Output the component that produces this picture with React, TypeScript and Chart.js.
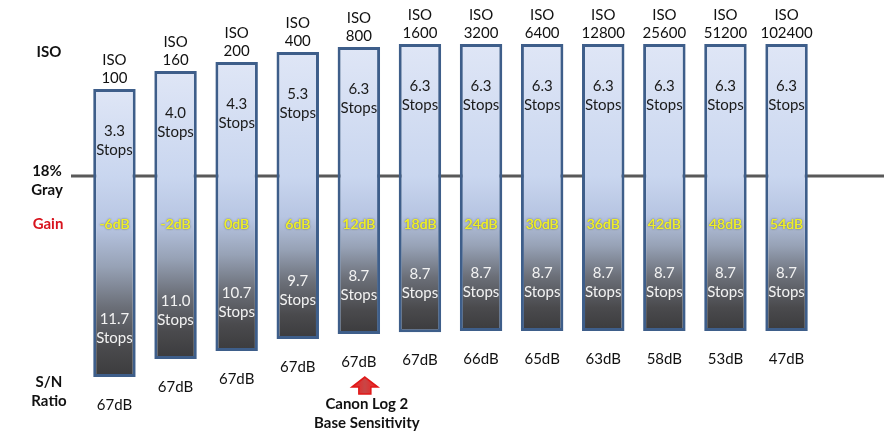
import React, { useEffect, useRef } from 'react';
import { Chart, registerables } from 'chart.js';

Chart.register(...registerables);

// ---- data ----
const isoValues = ['100', '160', '200', '400', '800', '1600', '3200', '6400', '12800', '25600', '51200', '102400'];
const stopsAbove = [3.3, 4.0, 4.3, 5.3, 6.3, 6.3, 6.3, 6.3, 6.3, 6.3, 6.3, 6.3];
const stopsBelow = [11.7, 11.0, 10.7, 9.7, 8.7, 8.7, 8.7, 8.7, 8.7, 8.7, 8.7, 8.7];
const gainDb = [-6, -2, 0, 6, 12, 18, 24, 30, 36, 42, 48, 54];
const snRatioDb = [67, 67, 67, 67, 67, 67, 66, 65, 63, 58, 53, 47];
// drawn extent of each bar above / below the 18% gray line (stop-sized units, as drawn in the diagram)
const barTop = [4.53, 5.47, 5.94, 6.46, 6.72, 6.88, 6.88, 6.88, 6.88, 6.88, 6.88, 6.88];
const barBottom = [-10.47, -9.53, -9.11, -8.49, -8.23, -8.13, -8.07, -8.07, -8.07, -8.07, -8.07, -8.07];
const baseSensitivityIndex = 4;

const FONT = 'Lato, "Open Sans", sans-serif';

function barGradient(ctx: CanvasRenderingContext2D, top: number, line: number, bottom: number) {
  const g = ctx.createLinearGradient(0, top, 0, bottom);
  const h = bottom - top;
  const f = (p: number) => Math.min(1, Math.max(0, (p - top) / h));
  const lower = bottom - line;
  g.addColorStop(0, '#dfe6f6');
  g.addColorStop(f(line), '#c9d6ef');
  g.addColorStop(f(line + lower * 0.25), '#b7c5e2');
  g.addColorStop(f(line + lower * 0.45), '#97a2b6');
  g.addColorStop(f(line + lower * 0.65), '#6b6f78');
  g.addColorStop(f(line + lower * 0.85), '#4a4a4d');
  g.addColorStop(1, '#3b3b3d');
  return g;
}

const grayLinePlugin = {
  id: 'grayLine',
  beforeDatasetsDraw(chart: any) {
    const { ctx } = chart;
    const y0 = chart.scales.y.getPixelForValue(0);
    ctx.save();
    ctx.strokeStyle = '#595959';
    ctx.lineWidth = 3;
    ctx.beginPath();
    ctx.moveTo(71, y0);
    ctx.lineTo(chart.width, y0);
    ctx.stroke();
    ctx.restore();
  },
};

const labelsPlugin = {
  id: 'labels',
  afterDatasetsDraw(chart: any) {
    const { ctx } = chart;
    const xs = chart.scales.x;
    const ys = chart.scales.y;
    const y0 = ys.getPixelForValue(0);
    ctx.save();
    ctx.textAlign = 'center';
    ctx.textBaseline = 'middle';

    isoValues.forEach((iso, i) => {
      const x = xs.getPixelForValue(i);
      const top = ys.getPixelForValue(barTop[i]);
      const bottom = ys.getPixelForValue(barBottom[i]);

      ctx.fillStyle = '#111';
      ctx.font = `15px ${FONT}`;
      ctx.fillText('ISO', x, top - 29);
      ctx.fillText(iso, x, top - 11);

      ctx.fillStyle = '#1a1a1a';
      ctx.fillText(stopsAbove[i].toFixed(1), x, top + 42);
      ctx.fillText('Stops', x, top + 61);

      ctx.fillStyle = '#f2f2f2';
      ctx.fillText(stopsBelow[i].toFixed(1), x, bottom - 58);
      ctx.fillText('Stops', x, bottom - 39);

      ctx.fillStyle = '#111';
      ctx.fillText(`${snRatioDb[i]}dB`, x, bottom + 28);

      ctx.save();
      ctx.font = `14px ${FONT}`;
      ctx.shadowColor = 'rgba(60,60,20,0.8)';
      ctx.shadowBlur = 2;
      ctx.fillStyle = '#eded2a';
      ctx.fillText(`${gainDb[i]}dB`, x, y0 + 48);
      ctx.shadowBlur = 0;
      ctx.fillText(`${gainDb[i]}dB`, x, y0 + 48);
      ctx.restore();
    });

    // left-hand row titles
    ctx.font = `bold 15px ${FONT}`;
    ctx.fillStyle = '#111';
    ctx.fillText('ISO', 49, 52);
    ctx.fillText('18%', 47, y0 - 5);
    ctx.fillText('Gray', 47, y0 + 14);
    ctx.fillStyle = '#d8141e';
    ctx.fillText('Gain', 48, y0 + 48);
    ctx.fillStyle = '#111';
    const snY = ys.getPixelForValue(barBottom[0]);
    ctx.fillText('S/N', 49, snY + 5);
    ctx.fillText('Ratio', 49, snY + 24);

    // base sensitivity arrow + note
    const bx = xs.getPixelForValue(baseSensitivityIndex) + 6;
    const bb = ys.getPixelForValue(barBottom[baseSensitivityIndex]);
    const tip = bb + 43;
    const base = bb + 60;
    const head = tip + 10;
    ctx.beginPath();
    ctx.moveTo(bx, tip);
    ctx.lineTo(bx + 13, head);
    ctx.lineTo(bx + 6, head);
    ctx.lineTo(bx + 6, base);
    ctx.lineTo(bx - 6, base);
    ctx.lineTo(bx - 6, head);
    ctx.lineTo(bx - 13, head);
    ctx.closePath();
    const ag = ctx.createLinearGradient(bx - 13, 0, bx + 13, 0);
    ag.addColorStop(0, '#f41e1e');
    ag.addColorStop(0.5, '#c84646');
    ag.addColorStop(1, '#f41e1e');
    ctx.fillStyle = ag;
    ctx.fill();
    ctx.strokeStyle = '#e01818';
    ctx.lineWidth = 1.5;
    ctx.stroke();

    ctx.fillStyle = '#111';
    ctx.font = `bold 15px ${FONT}`;
    ctx.fillText('Canon Log 2', bx + 2, bb + 70);
    ctx.fillText('Base Sensitivity', bx + 2, bb + 89);

    ctx.restore();
  },
};

export default function App() {
  const canvasRef = useRef<HTMLCanvasElement>(null);

  useEffect(() => {
    if (!canvasRef.current) return;
    const chart = new Chart(canvasRef.current, {
      type: 'bar',
      data: {
        labels: isoValues.map((v) => `ISO ${v}`),
        datasets: [
          {
            data: barTop.map((t, i) => [barBottom[i], t]) as any,
            backgroundColor: (c: any) => {
              const ch = c.chart;
              const ys = ch.scales?.y;
              if (!ys || c.dataIndex === undefined || !ch.chartArea) return '#cbd7ef';
              const i = c.dataIndex;
              return barGradient(
                ch.ctx,
                ys.getPixelForValue(barTop[i]),
                ys.getPixelForValue(0),
                ys.getPixelForValue(barBottom[i])
              );
            },
            borderColor: '#3e5e8a',
            borderWidth: 3,
            borderSkipped: false,
            barPercentage: 0.695,
            categoryPercentage: 1,
          },
        ],
      },
      options: {
        responsive: false,
        animation: false,
        devicePixelRatio: 1,
        layout: { padding: { left: 83.9, right: 66.9, top: 0, bottom: 0 } },
        plugins: { legend: { display: false }, tooltip: { enabled: false } },
        scales: {
          x: { display: false },
          y: { display: false, min: -13.8, max: 9.17 },
        },
      },
      plugins: [grayLinePlugin, labelsPlugin],
    });
    return () => chart.destroy();
  }, []);

  return (
    <div style={{ position: 'absolute', left: 0, top: 0, width: 884, height: 441, background: '#fff' }}>
      <canvas ref={canvasRef} width={884} height={441} style={{ display: 'block' }} />
    </div>
  );
}
